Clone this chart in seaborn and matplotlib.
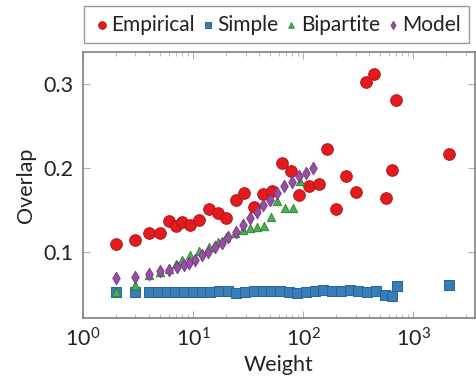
import numpy as np
import pandas as pd
import matplotlib
matplotlib.use("Agg")
import matplotlib.pyplot as plt
import seaborn as sns
from matplotlib.ticker import LogLocator, NullFormatter

# values
emp_w = [2, 3, 4, 5, 6, 7, 8, 9.4, 11.4, 14, 17, 20, 24.4, 29.3, 36, 43, 52, 64, 77, 92,
         113, 140, 164, 198, 246, 303, 372, 445, 569, 646, 705, 2125]
emp_ov = [0.110, 0.114, 0.123, 0.123, 0.137, 0.131, 0.136, 0.132, 0.138, 0.151, 0.146, 0.141,
          0.162, 0.170, 0.153, 0.169, 0.173, 0.206, 0.196, 0.168, 0.179, 0.181, 0.222, 0.151,
          0.190, 0.171, 0.302, 0.312, 0.164, 0.198, 0.281, 0.216]

simple_w = [2, 3, 4, 4.8, 5.8, 6.9, 8.3, 10, 12, 14.3, 17.2, 20.6, 24.8, 29.7, 35.7, 42.8,
            51, 62, 74, 89, 106, 128, 153, 184, 221, 265, 318, 382, 458, 550, 640, 710, 2130]
simple_ov = [0.052, 0.052, 0.052, 0.052, 0.052, 0.052, 0.052, 0.052, 0.052, 0.0525, 0.053,
             0.053, 0.051, 0.052, 0.053, 0.054, 0.053, 0.053, 0.052, 0.051, 0.052, 0.053,
             0.055, 0.054, 0.053, 0.055, 0.053, 0.052, 0.053, 0.049, 0.047, 0.0595, 0.061]

bip_w = [2, 3, 4, 5, 6, 7, 8, 9.3, 11.4, 14, 17, 20, 24, 28.7, 33, 38, 44, 51, 58, 68, 81, 94]
bip_ov = [0.052, 0.061, 0.072, 0.076, 0.080, 0.086, 0.090, 0.096, 0.101, 0.106, 0.112, 0.118,
          0.122, 0.126, 0.128, 0.130, 0.131, 0.142, 0.161, 0.152, 0.152, 0.184]

model_w = [2, 3, 4, 5, 6, 7.1, 8.2, 9.1, 10.4, 12, 13.8, 15.8, 18.2, 20.9, 24.6, 28.7, 33,
           37.9, 43.6, 50.1, 57.7, 67.2, 78.9, 92, 106, 122]
model_ov = [0.069, 0.070, 0.074, 0.077, 0.079, 0.0825, 0.0845, 0.0865, 0.091, 0.096, 0.100,
            0.106, 0.111, 0.118, 0.124, 0.132, 0.140, 0.148, 0.156, 0.162, 0.170, 0.178,
            0.183, 0.190, 0.194, 0.200]

sns.set_style("ticks")
plt.rcParams['font.family'] = ['Lato', 'DejaVu Sans']
plt.rcParams['mathtext.fontset'] = 'custom'
plt.rcParams['mathtext.rm'] = 'Lato'
plt.rcParams['mathtext.it'] = 'Lato'

fig = plt.figure(figsize=(4.77, 3.85), dpi=100)
ax = fig.add_axes([0.174, 0.174, 0.822, 0.691])

series = [
    ("Empirical", emp_w, emp_ov, "o", "#e41a1c", "#b3121a", 70),
    ("Simple", simple_w, simple_ov, "s", "#377eb8", "#2a6496", 52),
    ("Bipartite", bip_w, bip_ov, "^", "#4daf4a", "#34853a", 36),
    ("Model", model_w, model_ov, "d", "#984ea3", "#7a3b85", 40),
]
for name, w, ov, mk, fc, ec, s in series:
    sns.scatterplot(x=w, y=ov, ax=ax, marker=mk, color=fc, edgecolor=ec,
                    linewidth=0.7, s=s, label=name, zorder=3)

ax.set_xscale("log")
ax.set_xlim(1, 3660)
ax.set_ylim(0.0214, 0.338)
ax.set_yticks([0.1, 0.2, 0.3])
ax.set_yticklabels(["0.1", "0.2", "0.3"])
ax.xaxis.set_minor_locator(LogLocator(base=10, subs=np.arange(2, 10), numticks=20))
ax.xaxis.set_minor_formatter(NullFormatter())
ax.set_xticks([1, 10, 100, 1000])
ax.set_xticklabels([r"$10^0$", r"$10^1$", r"$10^2$", r"$10^3$"])

ax.tick_params(which="both", direction="in", top=True, right=True, colors="#b0b0b0",
               labelcolor="#222222", labelsize=15.5)
ax.tick_params(which="major", length=5, width=0.8, pad=7)
ax.tick_params(which="minor", length=3, width=0.6)
for sp in ax.spines.values():
    sp.set_visible(True)
    sp.set_color("#808080")
    sp.set_linewidth(1.2)

ax.set_xlabel("Weight", fontsize=15.5, color="#222222", labelpad=3)
ax.set_ylabel("Overlap", fontsize=15.5, color="#222222", labelpad=5)

leg = ax.legend(loc="lower left", bbox_to_anchor=(0.003, 1.034, 0.982, 0.1), mode="expand",
                ncol=4, frameon=True, fancybox=False, fontsize=15, handletextpad=0.0,
                columnspacing=0.1, borderpad=0.4, markerscale=0.65, handlelength=0.9,
                borderaxespad=0)
leg.get_frame().set_edgecolor("#808080")
leg.get_frame().set_linewidth(1.0)
for t in leg.get_texts():
    t.set_color("#222222")

fig.savefig("out.png", dpi=100)
